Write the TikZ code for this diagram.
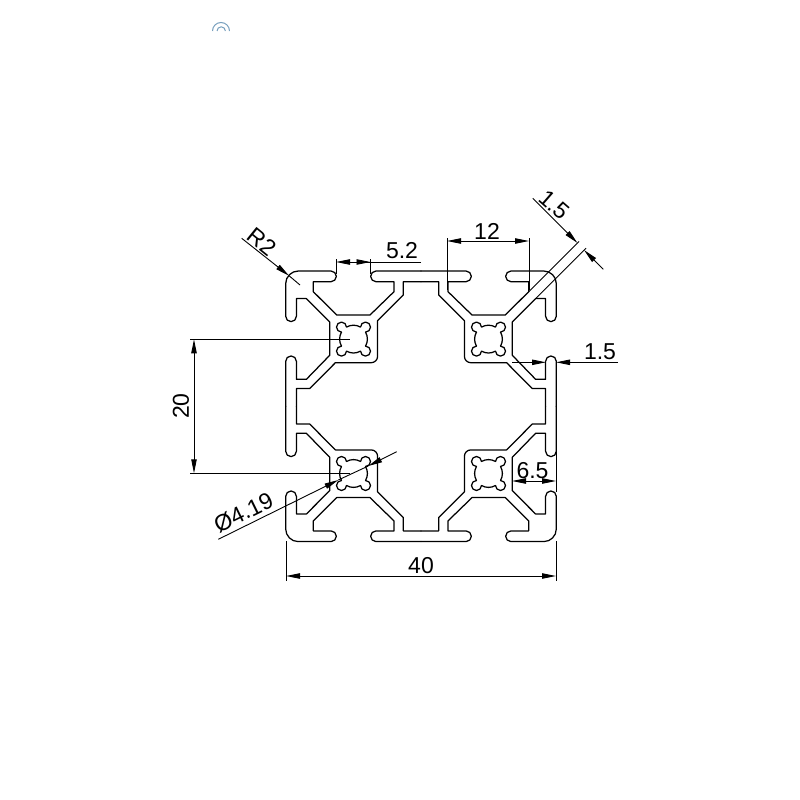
\documentclass[tikz,border=0pt]{standalone}
\usepackage{fontspec}
\setmainfont{Liberation Sans}
\usetikzlibrary{arrows.meta}
\tikzset{
  profile/.style={line width=1.25pt,black,line join=round,line cap=round},
  dimthin/.style={line width=0.9pt,black},
  dimboth/.style={dimthin,{Triangle[length=14pt,width=5.4pt]}-{Triangle[length=14pt,width=5.4pt]}},
  dimhead/.style={dimthin,-{Triangle[length=14pt,width=5.4pt]}},
  dimtext/.style={font=\fontsize{23}{24}\selectfont,inner sep=0pt}
}
\newcommand{\holeshape}{
  (12,7) arc[start angle=-90,end angle=180,radius=5]
  arc[start angle=59.7,end angle=120.3,radius=13.89]
  arc[start angle=0,end angle=270,radius=5]
  arc[start angle=149.7,end angle=210.3,radius=13.89]
  arc[start angle=90,end angle=360,radius=5]
  arc[start angle=239.7,end angle=300.3,radius=13.89]
  arc[start angle=180,end angle=450,radius=5]
  arc[start angle=-30.3,end angle=30.3,radius=13.89] -- cycle
}
\begin{document}
\begin{tikzpicture}[x=1pt,y=1pt]
\useasboundingbox (0,0) rectangle (800,-800);
\fill[white] (0,0) rectangle (800,-800);
% clipped mark at the top
\draw[line width=1pt,color={rgb,255:red,120;green,160;blue,190}] (212.5,-31) arc[start angle=180,end angle=0,radius=8.5];
\draw[line width=1pt,color={rgb,255:red,120;green,160;blue,190}] (217,-31) arc[start angle=180,end angle=0,radius=4.2];
% profile, one quadrant at a time
\foreach \sx/\sy in {1/1,-1/1,1/-1,-1/-1}{
\begin{scope}[shift={(421,-406.3)},xscale=\sx,yscale=\sy]
  \draw[profile] (0,135.3) -- (45,135.3) arc[start angle=90,end angle=-90,radius=5.35]
    -- (27,124.6) -- (27,114.6) -- (51,91.3) -- (84.3,91.3) -- (107.7,114.6) -- (107.7,124.6)
    -- (90,124.6) arc[start angle=270,end angle=90,radius=5.35]
    -- (122.7,135.3) arc[start angle=90,end angle=0,radius=12.6]
    -- (135.3,90) arc[start angle=0,end angle=-180,radius=5.35]
    -- (124.6,107.7) -- (114.6,107.7) -- (91.3,84.3) -- (91.3,51) -- (114.6,27) -- (124.6,27)
    -- (124.6,45) arc[start angle=180,end angle=0,radius=5.35] -- (135.3,0);
  \draw[profile] (0,124.6) -- (17.7,124.6) -- (17.7,111.3) -- (43.4,85.6) -- (43.4,50)
    arc[start angle=180,end angle=270,radius=6.4]
    -- (85.6,43.6) -- (111.3,17.7) -- (124.6,17.7) -- (124.6,0);
  \draw[profile,shift={(67.5,67.2)}] \holeshape;
\end{scope}}
% dimension 40
\draw[dimthin] (286,-541) -- (286,-581);
\draw[dimthin] (556,-541) -- (556,-581);
\draw[dimboth] (286,-576) -- (556,-576);
\node[dimtext] (t40) at (421,-566) {40};
% dimension 20
\draw[dimthin] (190,-339.3) -- (350,-339.3);
\draw[dimthin] (190,-473.3) -- (350,-473.3);
\draw[dimboth] (194,-339.3) -- (194,-473.3);
\node[dimtext,rotate=90] (t20) at (181,-406) {20};
% dimension 12
\draw[dimthin] (447,-238) -- (447,-290);
\draw[dimthin] (529,-238) -- (529,-290);
\draw[dimboth] (447,-241) -- (529,-241);
\node[dimtext] (t12) at (487,-231) {12};
% dimension 5.2
\draw[dimthin] (336,-259) -- (336,-274);
\draw[dimthin] (370.5,-259) -- (370.5,-274);
\draw[dimhead] (421,-262) -- (336,-262);
\draw[dimhead] (353,-262) -- (370.5,-262);
\node[dimtext] (t52) at (402,-251) {5.2};
% R2
\draw[dimhead] (241.7,-238.3) -- (289,-275.7);
\draw[dimthin] (289,-275.7) -- (300,-285);
\node[dimtext,rotate=-39] (tr2) at (262,-242) {R2};
% diagonal 1.5
\draw[dimthin] (579,-241.5) -- (528.7,-291.7);
\draw[dimthin] (586,-248.2) -- (535.6,-298.6);
\draw[dimhead] (532.7,-198.3) -- (577.5,-243);
\draw[dimhead] (603.3,-269.3) -- (584.1,-250.1);
\node[dimtext,rotate=-41] (td) at (554.5,-205) {1.5};
% right 1.5
\draw[dimhead] (512,-362.3) -- (546,-362.3);
\draw[dimhead] (618,-362.3) -- (556,-362.3);
\node[dimtext] (tr) at (600,-351.5) {1.5};
% 6.5
\draw[dimthin] (556,-452) -- (556,-492);
\draw[dimboth] (512,-481) -- (556,-481);
\node[dimtext] (t65) at (532.5,-470.5) {6.5};
% diameter
\draw[dimhead] (218.3,-539.3) -- (338.3,-480);
\draw[dimthin] (338.3,-480) -- (368.3,-466);
\draw[dimhead] (396.7,-451.7) -- (368.3,-466);
\node[dimtext,rotate=26.2] (tdia) at (243.5,-512.5) {Ø4.19};
\end{tikzpicture}
\end{document}
